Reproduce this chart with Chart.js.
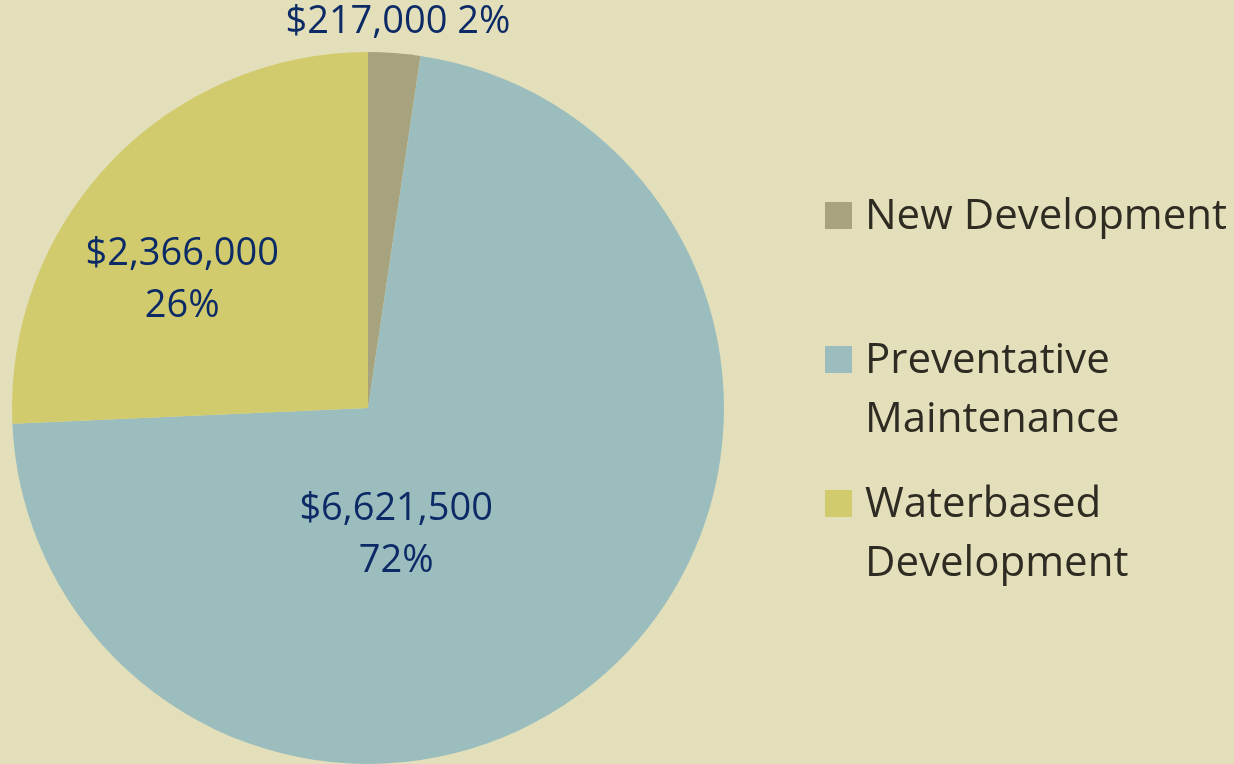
<!DOCTYPE html>
<html>
<head>
<meta charset="utf-8">
<script src="https://cdn.jsdelivr.net/npm/chart.js@4"></script>
<style>
    html, body { margin: 0; padding: 0; background: #e2dfba; }
    #wrap { width: 1234px; height: 764px; position: relative; }
</style>
</head>
<body>
<div id="wrap"><canvas id="pieChart"></canvas></div>
<script>
// ================= DATA =================
const categories = ['New Development', 'Preventative Maintenance', 'Waterbased Development'];
const amounts = [217000, 6621500, 2366000];
const legendLines = [['New Development'], ['Preventative', 'Maintenance'], ['Waterbased', 'Development']];
const sliceColors = ['#a6a37e', '#9cbdbd', '#d1cb6e'];

const total = amounts.reduce((a, b) => a + b, 0);
const pct = v => Math.round(v / total * 100) + '%';
const money = v => '$' + v.toLocaleString('en-US');

// label spots as fraction of radius from pie centre (x, y), and whether on one line
const labelSpots = [
    { fx: 0.084, fy: -1.085, oneLine: true },
    { fx: 0.079, fy: 0.357, oneLine: false },
    { fx: -0.522, fy: -0.36, oneLine: false }
];

const FONT = '"Open Sans", sans-serif';

const sliceLabels = {
    id: 'sliceLabels',
    afterDatasetsDraw(chart) {
        const ctx = chart.ctx;
        const arc = chart.getDatasetMeta(0).data[0];
        const cx = arc.x, cy = arc.y, r = arc.outerRadius;
        ctx.save();
        ctx.fillStyle = '#0c2a66';
        ctx.font = '38px ' + FONT;
        ctx.textAlign = 'center';
        ctx.textBaseline = 'middle';
        amounts.forEach((v, i) => {
            const s = labelSpots[i];
            const x = cx + s.fx * r, y = cy + s.fy * r;
            if (s.oneLine) {
                ctx.fillText(money(v) + ' ' + pct(v), x, y);
            } else {
                ctx.fillText(money(v), x, y - 26);
                ctx.fillText(pct(v), x, y + 26);
            }
        });
        ctx.restore();
    }
};

const sideLegend = {
    id: 'sideLegend',
    afterDraw(chart) {
        const ctx = chart.ctx;
        const arc = chart.getDatasetMeta(0).data[0];
        const left = arc.x + arc.outerRadius + 101;
        const firstBase = [229, 373, 517];
        ctx.save();
        ctx.font = '42px ' + FONT;
        ctx.textBaseline = 'alphabetic';
        legendLines.forEach((lines, i) => {
            const base = firstBase[i];
            ctx.fillStyle = sliceColors[i];
            ctx.fillRect(left, base - 27, 27, 27);
            ctx.fillStyle = '#2e2b22';
            lines.forEach((t, j) => ctx.fillText(t, left + 40, base + j * 59));
        });
        ctx.restore();
    }
};

new Chart(document.getElementById('pieChart'), {
    type: 'pie',
    data: {
        labels: categories,
        datasets: [{
            data: amounts,
            backgroundColor: sliceColors,
            borderWidth: 0
        }]
    },
    options: {
        responsive: true,
        maintainAspectRatio: false,
        animation: false,
        layout: { padding: { left: 12, top: 52, right: 510, bottom: 0 } },
        plugins: { legend: { display: false }, tooltip: { enabled: false } }
    },
    plugins: [sliceLabels, sideLegend]
});
</script>
</body>
</html>
